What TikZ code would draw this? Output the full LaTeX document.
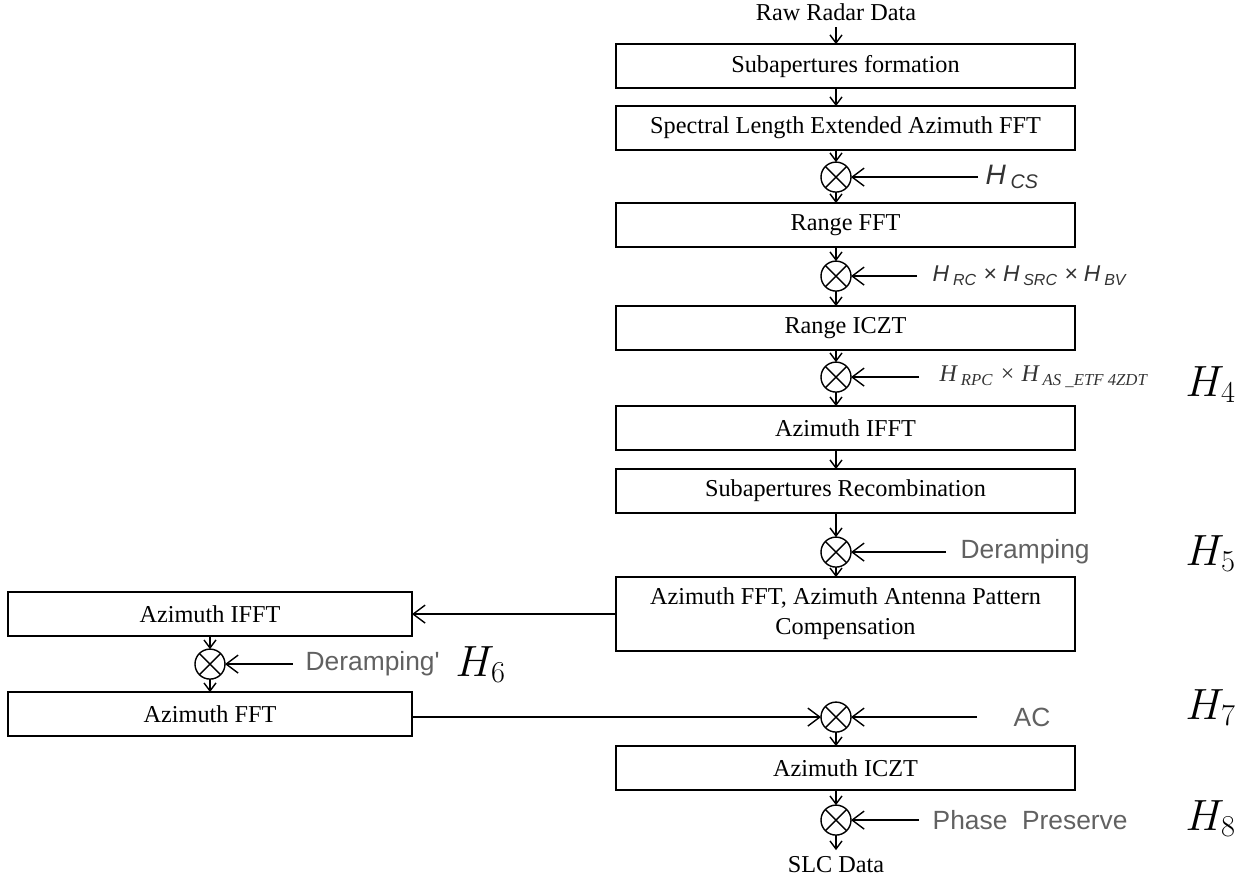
\documentclass[tikz,border=0pt]{standalone}
\usepackage{fontspec}
\setmainfont{Liberation Serif}
\setsansfont{Liberation Sans}
\usetikzlibrary{positioning,arrows.meta,calc}

\newcommand{\Hs}[1]{H\,\textsubscript{#1}}

\begin{document}
\begin{tikzpicture}[
  font=\fontsize{13.8}{17}\selectfont,
  line width=0.8pt,
  blk/.style={draw,line width=1.1pt,minimum width=91.8mm,minimum height=8.8mm,
              align=center,inner sep=2pt,outer sep=0pt},
  sideblk/.style={blk,minimum width=80.8mm},
  mult/.style={draw,circle,minimum size=6mm,inner sep=0pt,outer sep=0pt,
               path picture={\draw (path picture bounding box.north west)--(path picture bounding box.south east)
                                   (path picture bounding box.north east)--(path picture bounding box.south west);}},
  lbl/.style={inner xsep=2.6mm,inner ysep=1pt},
  gtxt/.style={lbl,font=\sffamily\fontsize{15}{17}\selectfont,text=black!62},
  htxt/.style={lbl,font=\sffamily\itshape\fontsize{13}{15}\selectfont,text=black!80},
  hbig/.style={anchor=base west,inner sep=0pt,font=\fontsize{26}{28}\selectfont},
  ar/.style={-{Straight Barb[length=1.6mm,width=2.4mm]}},
  arin/.style={-{Straight Barb[length=2.4mm,width=3.6mm]}}
]
\useasboundingbox (-167.2mm,2.4mm) rectangle (84mm,-173.4mm);
% main chain
\node (raw) {Raw Radar Data};
\node[blk,below=3.4mm of raw,xshift=1.9mm] (subap) {Subapertures formation};
\node[blk,below=3.6mm of subap] (slext) {Spectral Length Extended Azimuth FFT};
\node[mult,below=2.4mm of slext,xshift=-1.9mm] (m1) {};
\node[blk,below=2.2mm of m1,xshift=1.9mm] (rfft) {Range FFT};
\node[mult,below=2.8mm of rfft,xshift=-1.9mm] (m2) {};
\node[blk,below=3mm of m2,xshift=1.9mm] (riczt) {Range ICZT};
\node[mult,below=2.4mm of riczt,xshift=-1.9mm] (m3) {};
\node[blk,below=2.8mm of m3,xshift=1.9mm] (aifft) {Azimuth IFFT};
\node[blk,below=3.8mm of aifft] (recomb) {Subapertures Recombination};
\node[mult,below=4.8mm of recomb,xshift=-1.9mm] (m4) {};
\node[blk,minimum height=14.8mm,below=2mm of m4,xshift=1.9mm] (aafft)
   {Azimuth FFT, Azimuth Antenna Pattern\\Compensation};
\node[mult,below=10.2mm of aafft,xshift=-1.9mm] (m5) {};
\node[blk,below=2.8mm of m5,xshift=1.9mm] (aiczt) {Azimuth ICZT};
\node[mult,below=3mm of aiczt,xshift=-1.9mm] (m6) {};
\node[below=3mm of m6] (slc) {SLC Data};
% side branch
\node[sideblk,left=40.8mm of aafft] (lifft) {Azimuth IFFT};
\node[mult,below=2.6mm of lifft] (m7) {};
\node[sideblk,below=2.6mm of m7] (lfft) {Azimuth FFT};
% filter inputs
\node[htxt,inner xsep=1.4mm,right=25.4mm of m1,font=\sffamily\itshape\fontsize{16}{18}\selectfont] (hcs) {\Hs{CS}};
\node[htxt,inner xsep=3mm,right=13.2mm of m2] (hrc) {\Hs{RC} × \Hs{SRC} × \Hs{BV}};
\node[lbl,inner xsep=4mm,right=13.6mm of m3,font=\itshape\fontsize{13.6}{15}\selectfont,text=black!80] (hrpc)
   {\Hs{RPC} × \Hs{AS \_ETF 4ZDT}};
\node[gtxt,inner xsep=2.8mm,right=19mm of m4] (deramp) {Deramping};
\node[gtxt,inner xsep=7.2mm,right=25.2mm of m5] (ac) {AC};
\node[gtxt,right=13.6mm of m6] (phase) {Phase~~Preserve};
\node[gtxt,inner xsep=2.4mm,right=13.6mm of m7] (deramp2) {Deramping\textquotesingle};
% filter names
\node[hbig] (h4) at ($(m3)+(69.8mm,-3.8mm)$) {$H_4$};
\node[hbig] (h5) at ($(m4)+(69.8mm,-2.6mm)$) {$H_5$};
\node[hbig] (h6) at ($(m7)+(49mm,-2.4mm)$) {$H_6$};
\node[hbig] (h7) at ($(m5)+(69.8mm,-0.4mm)$) {$H_7$};
\node[hbig] (h8) at ($(m6)+(69.8mm,-2mm)$) {$H_8$};
% flow
\draw[ar] (raw) -- (subap.north -| raw);
\draw[ar] (subap.south -| raw) -- (slext.north -| raw);
\draw[ar] (slext.south -| m1) -- (m1);
\draw[ar] (m1) -- (m1 |- rfft.north);
\draw[ar] (rfft.south -| m2) -- (m2);
\draw[ar] (m2) -- (m2 |- riczt.north);
\draw[ar] (riczt.south -| m3) -- (m3);
\draw[ar] (m3) -- (m3 |- aifft.north);
\draw[ar] (aifft.south -| m3) -- (recomb.north -| m3);
\draw[ar] (recomb.south -| m4) -- (m4);
\draw[ar] (m4) -- (m4 |- aafft.north);
\draw[arin] (aafft) -- (lifft);
\draw[ar] (lifft) -- (m7);
\draw[ar] (m7) -- (lfft);
\draw[arin] (lfft.east |- m5) -- (m5);
\draw[ar] (m5) -- (m5 |- aiczt.north);
\draw[ar] (aiczt.south -| m6) -- (m6);
\draw[ar] (m6) -- (slc);
% inputs into multipliers
\draw[arin] (hcs) -- (m1);
\draw[arin] (hrc) -- (m2);
\draw[arin] (hrpc) -- (m3);
\draw[arin] (deramp) -- (m4);
\draw[arin] (ac) -- (m5);
\draw[arin] (phase) -- (m6);
\draw[arin] (deramp2) -- (m7);
\end{tikzpicture}
\end{document}
